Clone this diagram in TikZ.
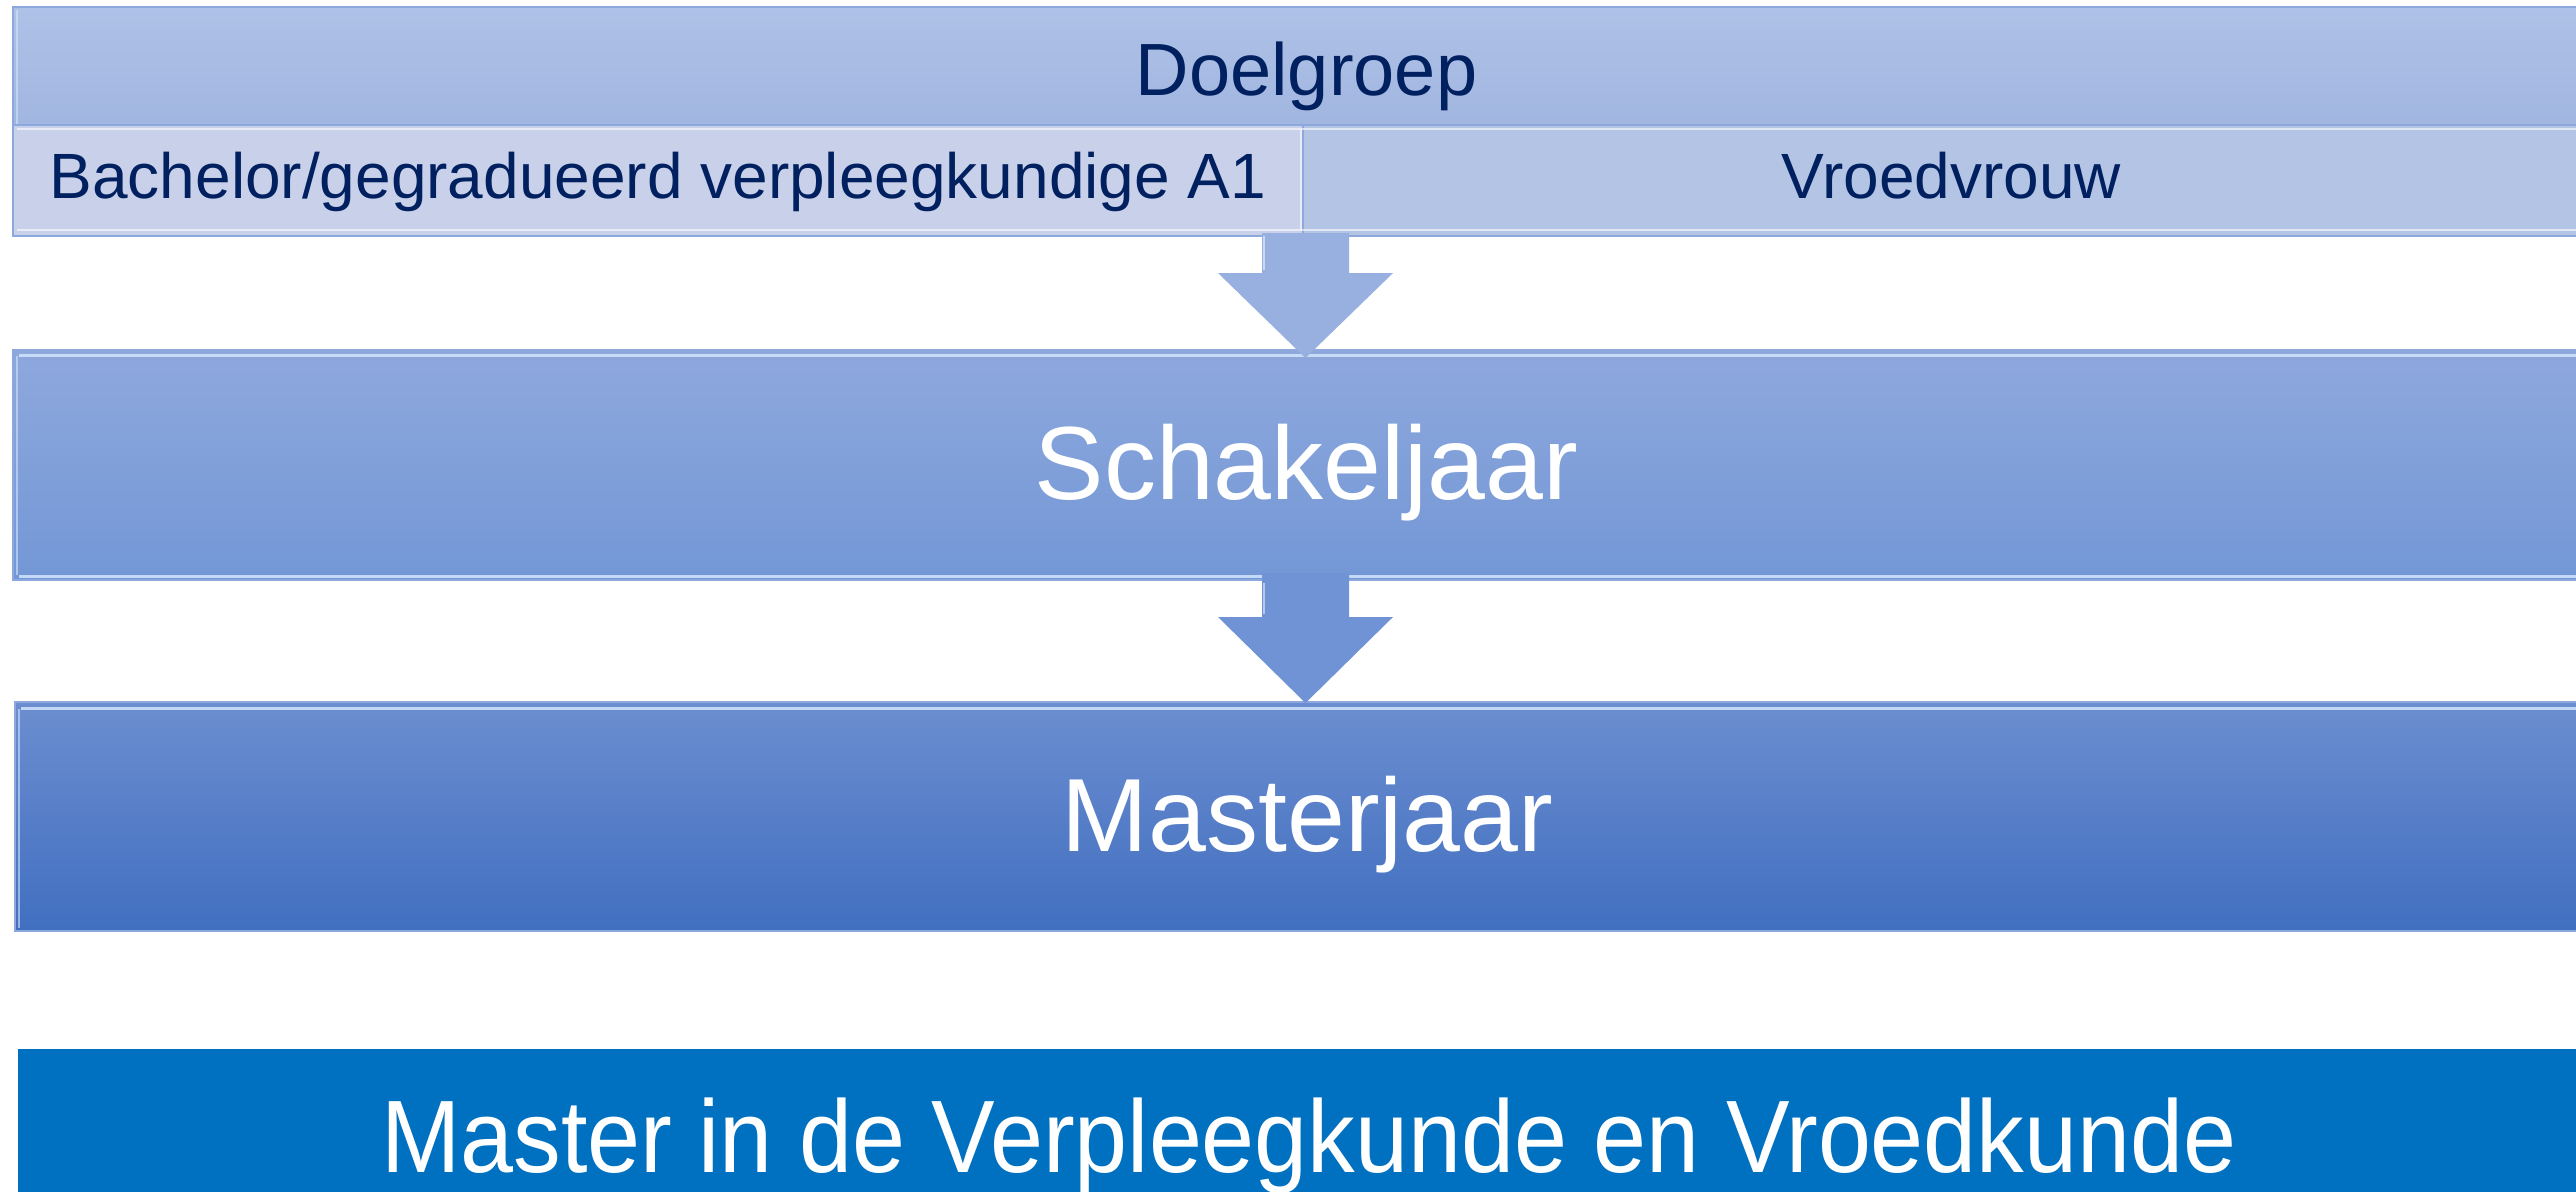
\documentclass[tikz,border=0pt]{standalone}
\usepackage{fontspec}
\setmainfont{Liberation Sans}
\usetikzlibrary{calc}
\definecolor{navy}{HTML}{002060}
\definecolor{doeltop}{HTML}{AEC1E7}
\definecolor{doelbot}{HTML}{A1B6E0}
\definecolor{edgeblue}{HTML}{8CA8DC}
\definecolor{bachfill}{HTML}{C9D0E9}
\definecolor{vroedfill}{HTML}{B4C4E5}
\definecolor{schtop}{HTML}{8EA8DD}
\definecolor{schbot}{HTML}{7397D6}
\definecolor{mastop}{HTML}{6C8ED0}
\definecolor{masbot}{HTML}{416FC0}
\definecolor{arrowa}{HTML}{97B0E0}
\definecolor{arrowb}{HTML}{6F93D4}
\definecolor{mvvblue}{HTML}{0070C0}
\definecolor{highlight}{HTML}{D2E5FB}
\newcommand\boxtext[2]{\raisebox{#1}[0pt][0pt]{#2}}
\begin{document}
\begin{tikzpicture}[x=0.5pt,y=-0.5pt,
  box/.style={rectangle, inner sep=0pt, outer sep=0pt, anchor=center},
  bevelline/.style={highlight, line width=1.5pt, opacity=0.85},
  sideline/.style={highlight, line width=1pt, opacity=0.6},
  softline/.style={white, line width=1.2pt, opacity=0.6},
  flowarrow/.style={line width=0.6pt, line join=miter}]
\clip (0,0) rectangle (2576,1191);
\fill[white] (0,0) rectangle (2576,1191);

% top band
\node[box, minimum width=1293.5pt, minimum height=59pt,
  top color=doeltop, bottom color=doelbot, draw=edgeblue, line width=0.8pt,
  text=navy, font=\fontsize{37}{40}\selectfont]
  (doel) at (1306.5,66) {\boxtext{-14.5pt}{Doelgroep}};
\draw[sideline] ($(doel.north west)+(4,3)$) -- ($(doel.south west)+(4,0)$);

% sub row
\node[box, minimum width=645pt, minimum height=55.5pt,
  fill=bachfill, draw=edgeblue, line width=0.8pt,
  text=navy, font=\fontsize{32}{36}\selectfont]
  (bach) at (658,180.5) {\boxtext{-8.75pt}{Bachelor/gegradueerd verpleegkundige A1}};
\node[box, minimum width=648.5pt, minimum height=55.5pt,
  fill=vroedfill, draw=edgeblue, line width=0.8pt,
  text=navy, font=\fontsize{32}{36}\selectfont]
  (vroed) at (1951.5,180.5) {\boxtext{-8.75pt}{Vroedvrouw}};
\draw[softline] ($(bach.north west)+(4,4)$) -- ($(vroed.north east)+(0,4)$);
\draw[softline] ($(bach.south west)+(4,-6)$) -- ($(vroed.south east)+(0,-6)$);
\draw[softline] ($(bach.north east)+(-2,4)$) -- ($(bach.south east)+(-2,-6)$);

% Schakeljaar
\node[box, minimum width=1293.5pt, minimum height=115pt,
  top color=schtop, bottom color=schbot, draw=edgeblue, line width=0.8pt,
  text=white, font=\fontsize{52}{56}\selectfont]
  (schakel) at (1306.5,465) {\boxtext{-17pt}{Schakeljaar}};
\draw[bevelline] ($(schakel.north west)+(6,5)$) -- ($(schakel.north east)+(0,5)$);
\draw[bevelline] ($(schakel.south west)+(6,-4)$) -- ($(schakel.south east)+(0,-4)$);
\draw[sideline] ($(schakel.north west)+(4,6)$) -- ($(schakel.south west)+(4,-5)$);

% Masterjaar
\node[box, minimum width=1292.5pt, minimum height=114.5pt,
  top color=mastop, bottom color=masbot, draw=edgeblue, line width=0.8pt,
  text=white, font=\fontsize{52}{56}\selectfont]
  (master) at (1307.5,816.5) {\boxtext{-17.5pt}{Masterjaar}};
\draw[bevelline] ($(master.north west)+(6,6)$) -- ($(master.north east)+(0,6)$);
\draw[sideline] ($(master.north west)+(4,7)$) -- ($(master.south west)+(4,-3)$);

% arrows
\coordinate (a1s) at ($(bach.south east)+(2.5,-3)$);
\coordinate (a1t) at ($(a1s |- schakel.north)+(0,8)$);
\fill[arrowa, flowarrow]
  ($(a1s)+(-43.5,0)$) -- ($(a1t)+(-43.5,-85)$) -- ($(a1t)+(-87.5,-85)$)
  -- (a1t) -- ($(a1t)+(87.5,-85)$) -- ($(a1t)+(43.5,-85)$)
  -- ($(a1s)+(43.5,0)$) -- cycle;
\draw[white, opacity=0.5, line width=1pt] ($(a1s)+(-41.5,3)$) -- ($(a1t)+(-41.5,-88)$);

\coordinate (a2s) at ($(a1s |- schakel.south)+(0,-7)$);
\coordinate (a2t) at ($(a2s |- master.north)+(0,1)$);
\fill[arrowb, flowarrow]
  ($(a2s)+(-43.5,0)$) -- ($(a2t)+(-43.5,-86)$) -- ($(a2t)+(-87.5,-86)$)
  -- (a2t) -- ($(a2t)+(87.5,-86)$) -- ($(a2t)+(43.5,-86)$)
  -- ($(a2s)+(43.5,0)$) -- cycle;
\draw[white, opacity=0.5, line width=1pt] ($(a2s)+(-41.5,10)$) -- ($(a2t)+(-41.5,-89)$);

% bottom banner
\node[box, minimum width=1291pt, minimum height=90.5pt,
  fill=mvvblue, text=white, font=\fontsize{51.5}{56}\selectfont]
  (mvv) at (1309,1139.5) {\boxtext{-16.25pt}{\scalebox{0.925}[1]{Master in de Verpleegkunde en Vroedkunde}}};
\end{tikzpicture}
\end{document}
